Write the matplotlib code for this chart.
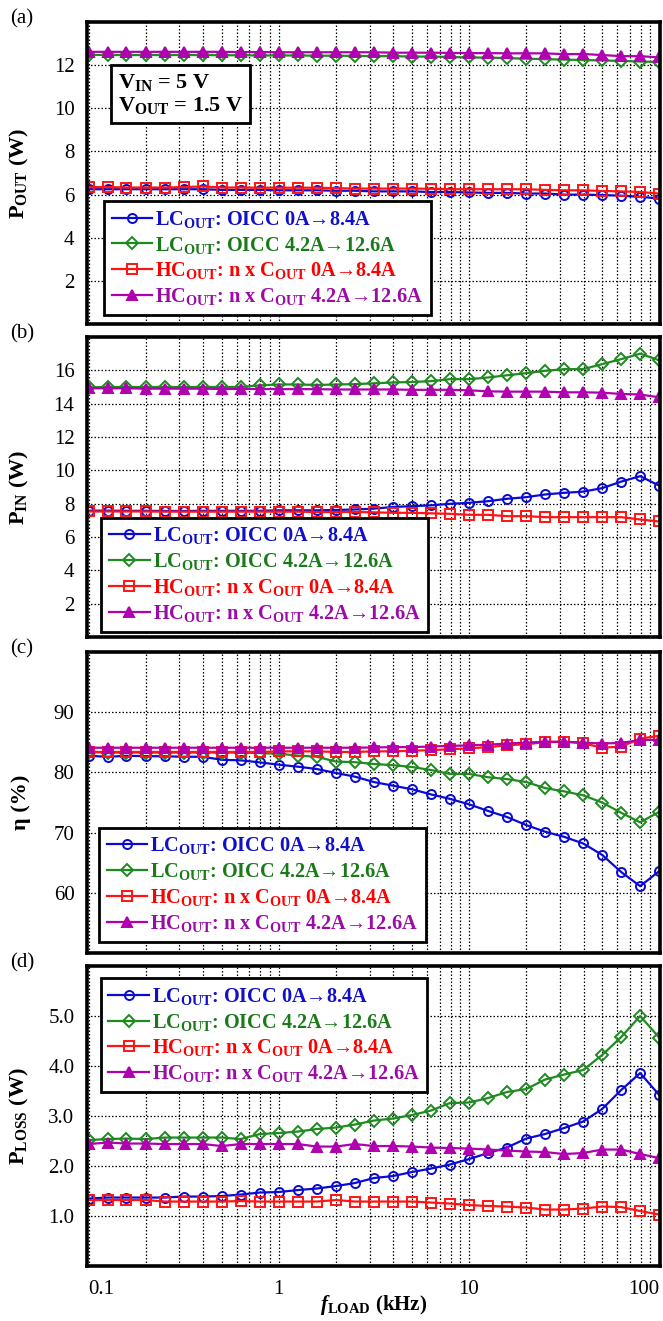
import matplotlib
matplotlib.use("Agg")
import matplotlib.pyplot as plt
from matplotlib.ticker import FixedLocator, LogLocator, NullFormatter

plt.rcParams['font.family'] = ['Liberation Serif', 'DejaVu Serif']
plt.rcParams['mathtext.fontset'] = 'custom'
plt.rcParams['mathtext.rm'] = 'Liberation Serif'
plt.rcParams['mathtext.bf'] = 'Liberation Serif:bold'
plt.rcParams['mathtext.it'] = 'Liberation Serif:italic'
plt.rcParams['mathtext.bfit'] = 'Liberation Serif:italic:bold'

# ---------------- data ----------------
freq_khz = [0.1, 0.126, 0.158, 0.2, 0.251, 0.316, 0.398, 0.501, 0.631, 0.794,
            1.0, 1.26, 1.58, 2.0, 2.51, 3.16, 3.98, 5.01, 6.31, 7.94,
            10.0, 12.6, 15.8, 20.0, 25.1, 31.6, 39.8, 50.1, 63.1, 79.4, 100.0]

series_labels = [r'LC$_{\mathbf{OUT}}$: OICC 0A→8.4A',
                 r'LC$_{\mathbf{OUT}}$: OICC 4.2A→12.6A',
                 r'HC$_{\mathbf{OUT}}$: n x C$_{\mathbf{OUT}}$ 0A→8.4A',
                 r'HC$_{\mathbf{OUT}}$: n x C$_{\mathbf{OUT}}$ 4.2A→12.6A']

# (a) output power (W)
pout_lc_0 = [6.25, 6.25, 6.25, 6.25, 6.25, 6.25, 6.25, 6.22, 6.22, 6.22, 6.2, 6.2, 6.2, 6.18, 6.18, 6.15,
             6.15, 6.15, 6.12, 6.12, 6.1, 6.08, 6.08, 6.05, 6.05, 6.0, 6.0, 5.98, 5.95, 5.9, 5.82]
pout_lc_42 = [12.48, 12.47, 12.47, 12.47, 12.47, 12.47, 12.47, 12.46, 12.46, 12.45, 12.45, 12.45, 12.44,
              12.44, 12.43, 12.42, 12.42, 12.4, 12.4, 12.38, 12.36, 12.35, 12.33, 12.3, 12.28, 12.26,
              12.24, 12.22, 12.2, 12.17, 12.15]
pout_hc_0 = [6.35, 6.35, 6.33, 6.33, 6.33, 6.35, 6.38, 6.33, 6.33, 6.32, 6.32, 6.32, 6.32, 6.3, 6.28, 6.28,
             6.28, 6.28, 6.27, 6.25, 6.25, 6.25, 6.25, 6.25, 6.22, 6.2, 6.2, 6.17, 6.15, 6.12, 6.05]
pout_hc_42 = [12.62, 12.62, 12.62, 12.62, 12.62, 12.62, 12.62, 12.62, 12.61, 12.61, 12.6, 12.6, 12.6,
              12.6, 12.6, 12.6, 12.58, 12.58, 12.58, 12.57, 12.56, 12.56, 12.55, 12.55, 12.55, 12.51,
              12.52, 12.47, 12.42, 12.42, 12.36]

# (b) input power (W)
pin_lc_0 = [7.58, 7.58, 7.57, 7.57, 7.56, 7.56, 7.57, 7.57, 7.57, 7.57, 7.6, 7.6, 7.6, 7.62, 7.65, 7.7,
            7.8, 7.85, 7.9, 7.99, 8.05, 8.15, 8.29, 8.39, 8.55, 8.65, 8.72, 8.93, 9.32, 9.65, 9.08]
pin_lc_42 = [14.98, 15.0, 15.0, 15.0, 15.0, 15.0, 15.0, 15.0, 15.0, 15.1, 15.15, 15.15, 15.12, 15.15,
             15.17, 15.22, 15.27, 15.3, 15.35, 15.47, 15.47, 15.57, 15.7, 15.83, 15.97, 16.07, 16.07,
             16.37, 16.67, 17.0, 16.6]
pin_hc_0 = [7.53, 7.53, 7.53, 7.53, 7.52, 7.52, 7.52, 7.52, 7.52, 7.52, 7.52, 7.52, 7.5, 7.5, 7.5, 7.48,
            7.45, 7.45, 7.42, 7.39, 7.33, 7.33, 7.25, 7.25, 7.19, 7.19, 7.19, 7.19, 7.19, 7.05, 6.93]
pin_hc_42 = [14.92, 14.92, 14.92, 14.9, 14.9, 14.9, 14.9, 14.88, 14.88, 14.88, 14.87, 14.87, 14.87,
             14.85, 14.85, 14.85, 14.85, 14.83, 14.83, 14.83, 14.8, 14.74, 14.72, 14.72, 14.72, 14.68,
             14.68, 14.66, 14.58, 14.55, 14.38]

# (c) efficiency (%)
eta_lc_0 = [82.76, 82.6, 82.76, 82.7, 82.68, 82.6, 82.6, 82.1, 82.0, 81.67, 81.28, 80.95, 80.57, 79.9,
            79.3, 78.4, 77.8, 77.2, 76.35, 75.6, 74.7, 73.6, 72.6, 71.25, 70.15, 69.3, 68.2, 66.3,
            63.45, 61.1, 63.6]
eta_lc_42 = [83.4, 83.3, 83.3, 83.3, 83.3, 83.3, 83.3, 83.3, 83.3, 83.2, 83.1, 82.8, 82.6, 81.8, 81.7,
             81.4, 81.2, 80.9, 80.4, 79.75, 79.75, 79.2, 78.9, 78.4, 77.4, 76.85, 76.2, 75.0, 73.3,
             71.7, 73.45]
eta_hc_0 = [83.4, 83.4, 83.4, 83.4, 83.4, 83.4, 83.4, 83.4, 83.4, 83.4, 83.5, 83.5, 83.5, 83.4, 83.4,
            83.5, 83.5, 83.6, 83.7, 83.85, 84.0, 84.2, 84.5, 84.7, 85.0, 85.1, 84.85, 84.1, 84.3,
            85.6, 86.1]
eta_hc_42 = [84.1, 84.1, 84.1, 84.1, 84.1, 84.1, 84.1, 84.1, 84.1, 84.1, 84.1, 84.1, 84.1, 84.1, 84.1,
             84.15, 84.2, 84.2, 84.3, 84.4, 84.5, 84.6, 84.8, 84.95, 85.1, 85.1, 84.95, 84.8, 84.9,
             85.4, 85.4]

# (d) power loss (W)
ploss_lc_0 = [1.35, 1.37, 1.37, 1.37, 1.37, 1.39, 1.39, 1.40, 1.43, 1.47, 1.48, 1.52, 1.55, 1.60, 1.66,
              1.76, 1.80, 1.88, 1.95, 2.03, 2.14, 2.26, 2.37, 2.55, 2.64, 2.76, 2.89, 3.14, 3.52, 3.86,
              3.42]
ploss_lc_42 = [2.52, 2.54, 2.55, 2.54, 2.57, 2.57, 2.57, 2.57, 2.54, 2.64, 2.66, 2.69, 2.74, 2.77, 2.83,
               2.91, 2.95, 3.02, 3.11, 3.26, 3.27, 3.36, 3.48, 3.54, 3.73, 3.83, 3.92, 4.22, 4.58, 5.0,
               4.57]
ploss_hc_0 = [1.32, 1.32, 1.32, 1.32, 1.29, 1.29, 1.29, 1.29, 1.30, 1.29, 1.29, 1.29, 1.29, 1.32, 1.29,
              1.29, 1.29, 1.29, 1.27, 1.25, 1.22, 1.20, 1.19, 1.17, 1.13, 1.13, 1.15, 1.19, 1.18, 1.10,
              1.03]
ploss_hc_42 = [2.44, 2.47, 2.45, 2.45, 2.44, 2.44, 2.44, 2.40, 2.44, 2.44, 2.44, 2.44, 2.39, 2.39, 2.44,
               2.40, 2.40, 2.39, 2.37, 2.36, 2.35, 2.33, 2.31, 2.29, 2.28, 2.24, 2.26, 2.33, 2.33, 2.24,
               2.16]

x_ticks = [0.1, 1, 10, 100]
x_ticklabels = ['0.1', '1', '10', '100']

# ---------------- style ----------------
line_colors = ['#0a0ad2', '#1f8a1f', '#ff1414', '#b000b0']
text_colors = ['#1010c8', '#1a7a1a', '#ff0000', '#9c0aa8']
markers = ['o', 'D', 's', '^']
msizes = [6.5, 6.0, 7.0, 7.5]
mfaces = ['none', 'none', 'none', None]

panels = [
    dict(data=[pout_lc_0, pout_lc_42, pout_hc_0, pout_hc_42], ylim=(0, 14),
         yticks=[2, 4, 6, 8, 10, 12], ylabels=['2', '4', '6', '8', '10', '12'],
         ylabel=r'P$_{\mathbf{OUT}}$ (W)', letter='(a)',
         rect=(0.1312, 0.7547, 0.8643, 0.2286), leg=('lower left', (0.03, 0.03))),
    dict(data=[pin_lc_0, pin_lc_42, pin_hc_0, pin_hc_42], ylim=(0, 18),
         yticks=[2, 4, 6, 8, 10, 12, 14, 16], ylabels=['2', '4', '6', '8', '10', '12', '14', '16'],
         ylabel=r'P$_{\mathbf{IN}}$ (W)', letter='(b)',
         rect=(0.1312, 0.5178, 0.8643, 0.2271), leg=('lower left', (0.025, 0.018))),
    dict(data=[eta_lc_0, eta_lc_42, eta_hc_0, eta_hc_42], ylim=(50, 100),
         yticks=[60, 70, 80, 90], ylabels=['60', '70', '80', '90'],
         ylabel='η (%)', letter='(c)',
         rect=(0.1312, 0.2786, 0.8643, 0.2278), leg=('lower left', (0.021, 0.0375))),
    dict(data=[ploss_lc_0, ploss_lc_42, ploss_hc_0, ploss_hc_42], ylim=(0, 6),
         yticks=[1, 2, 3, 4, 5], ylabels=['1.0', '2.0', '3.0', '4.0', '5.0'],
         ylabel=r'P$_{\mathbf{LOSS}}$ (W)', letter='(d)',
         rect=(0.1312, 0.0416, 0.8643, 0.2271), leg=('upper left', (0.024, 0.96))),
]

fig = plt.figure(figsize=(6.63, 13.21), dpi=100)

for i, p in enumerate(panels):
    ax = fig.add_axes(p['rect'])
    for j, ys in enumerate(p['data']):
        kw = dict(color=line_colors[j], lw=1.6, marker=markers[j], ms=msizes[j],
                  mec=line_colors[j], mew=1.4, label=series_labels[j], clip_on=True)
        if mfaces[j] is not None:
            kw['mfc'] = mfaces[j]
        ax.plot(freq_khz, ys, **kw)
    ax.set_xscale('log')
    ax.set_xlim(0.098, 101)
    ax.set_ylim(*p['ylim'])
    ax.yaxis.set_major_locator(FixedLocator(p['yticks']))
    ax.set_yticklabels(p['ylabels'], fontsize=15)
    ax.xaxis.set_major_locator(FixedLocator(x_ticks))
    ax.xaxis.set_minor_locator(LogLocator(base=10, subs=[2, 3, 4, 5, 6, 7, 8, 9]))
    ax.xaxis.set_minor_formatter(NullFormatter())
    ax.grid(True, which='major', axis='both', color='black', ls=(0, (1.2, 1.6)), lw=0.9)
    ax.grid(True, which='minor', axis='x', color='black', ls=(0, (1.2, 1.6)), lw=0.9)
    ax.tick_params(which='both', length=0, pad=9)
    for s in ax.spines.values():
        s.set_linewidth(2.6)
        s.set_color('black')
    ax.set_axisbelow(True)
    if i == 3:
        ax.set_xticklabels(x_ticklabels, fontsize=15)
        tl = ax.get_xticklabels()
        tl[0].set_horizontalalignment('left')
        tl[-1].set_horizontalalignment('right')
        ax.tick_params(axis='x', pad=10)
        fig.text((87 + 660) / 2 / 663, 1 - 1305 / 1321,
                 r'$\mathbfit{f}_{\mathbf{LOAD}}$ (kHz)', fontsize=15, fontweight='bold',
                 ha='center', va='center')
    else:
        ax.set_xticklabels([])
    ax.set_ylabel(p['ylabel'], fontsize=16, fontweight='bold')
    ax.yaxis.set_label_coords(-0.098, 0.5)

    leg = ax.legend(loc=p['leg'][0], bbox_to_anchor=p['leg'][1], borderaxespad=0,
                    prop={'weight': 'bold', 'size': 14.6}, handlelength=2.0, handletextpad=0.15,
                    labelspacing=0.24, borderpad=0.38, fancybox=False, framealpha=1,
                    edgecolor='black')
    leg.get_frame().set_linewidth(2.0)
    for t, c in zip(leg.get_texts(), text_colors):
        t.set_color(c)

    top_px = (1 - (p['rect'][1] + p['rect'][3])) * 1321
    fig.text(22 / 663, 1 - (top_px - 3) / 1321, p['letter'], fontsize=15,
             ha='center', va='center')

    if i == 0:
        ax.text(0.054, 0.835, 'V$_{\\mathbf{IN}}$ = 5 V\nV$_{\\mathbf{OUT}}$ = 1.5 V',
                transform=ax.transAxes, fontsize=16, fontweight='bold', va='top', ha='left',
                linespacing=1.15,
                bbox=dict(boxstyle='square,pad=0.3', fc='white', ec='black', lw=2.0))

fig.savefig('out.png', dpi=100)
